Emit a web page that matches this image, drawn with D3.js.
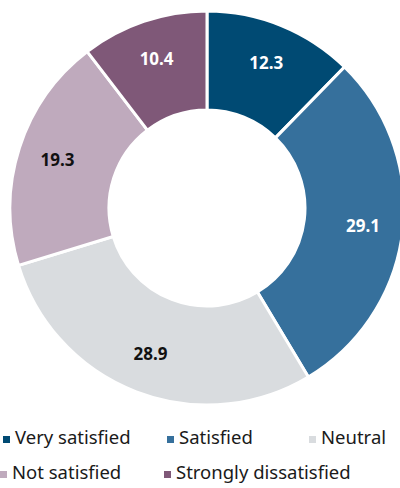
<!DOCTYPE html>
<html>
<head>
<meta charset="utf-8">
<script src="https://cdn.jsdelivr.net/npm/d3@7"></script>
<style>
  body { margin: 0; background: #fff; }
  svg text { font-family: "Noto Sans", "Open Sans", sans-serif; }
</style>
</head>
<body>
<div id="chart"></div>
<script>
// data
const categories = ['Very satisfied', 'Satisfied', 'Neutral', 'Not satisfied', 'Strongly dissatisfied'];
const values = [12.3, 29.1, 28.9, 19.3, 10.4];
const colors = ['#004a73', '#36709c', '#d9dcdf', '#bfaabd', '#7f5878'];
const labelColors = ['#fff', '#fff', '#111', '#111', '#fff'];

const W = 400, H = 488;
const cx = 207, cy = 208, outerR = 197, innerR = 98;

const svg = d3.select('#chart').append('svg')
  .attr('width', W).attr('height', H);

const g = svg.append('g').attr('transform', `translate(${cx},${cy})`);

const pie = d3.pie().sort(null).value(d => d);
const arcs = pie(values);

const arc = d3.arc().innerRadius(innerR).outerRadius(outerR);
const labelArc = d3.arc().innerRadius(157).outerRadius(157);

g.selectAll('path.slice')
  .data(arcs)
  .enter()
  .append('path')
  .attr('class', 'slice')
  .attr('d', arc)
  .style('fill', (d, i) => colors[i])
  .style('stroke', '#fff')
  .style('stroke-width', 3);

g.selectAll('text.val')
  .data(arcs)
  .enter()
  .append('text')
  .attr('class', 'val')
  .attr('transform', d => `translate(${labelArc.centroid(d)})`)
  .attr('text-anchor', 'middle')
  .attr('dy', '0.35em')
  .style('font-size', '17px')
  .style('font-weight', 'bold')
  .style('fill', (d, i) => labelColors[i])
  .text(d => d.data.toFixed(1));

// legend, two rows
const legendPos = [[3, 444], [167, 444], [309, 444], [0, 479], [164, 479]];
const legend = svg.append('g').attr('class', 'legend');
const item = legend.selectAll('g')
  .data(categories)
  .enter()
  .append('g')
  .attr('transform', (d, i) => `translate(${legendPos[i][0]},${legendPos[i][1]})`);
item.append('rect')
  .attr('x', 0).attr('y', -8)
  .attr('width', 7).attr('height', 7)
  .style('fill', (d, i) => colors[i]);
item.append('text')
  .attr('x', 12)
  .attr('y', 0)
  .style('font-size', '18.5px')
  .style('fill', '#1a1a1a')
  .text(d => d);
</script>
</body>
</html>
